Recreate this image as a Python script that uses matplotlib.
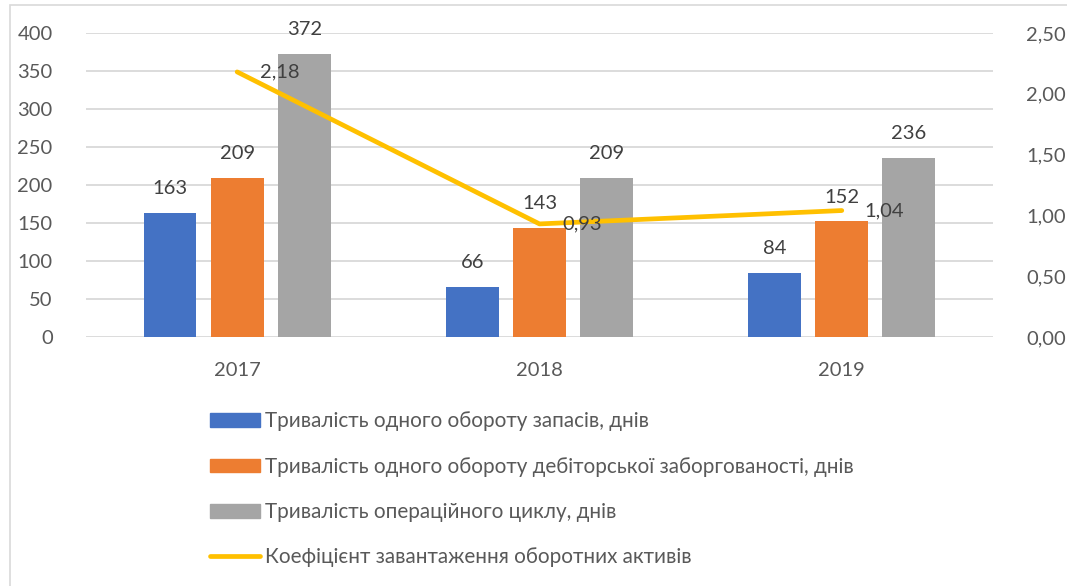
import numpy as np
import matplotlib.pyplot as plt
from matplotlib.patches import Rectangle
from matplotlib.lines import Line2D

# Data
years = ["2017", "2018", "2019"]
stock_days = [163, 66, 84]
receivable_days = [209, 143, 152]
cycle_days = [372, 209, 236]
load_ratio = [2.18, 0.93, 1.04]

labels = [
    "Тривалість одного обороту запасів, днів",
    "Тривалість одного обороту дебіторської заборгованості, днів",
    "Тривалість операційного циклу, днів",
    "Коефіцієнт завантаження оборотних активів",
]
colors = ["#4472C4", "#ED7D31", "#A5A5A5"]
line_color = "#FFC000"

plt.rcParams["font.family"] = ["Lato", "Open Sans", "DejaVu Sans"]
fs = 14.5
txt = "#404040"

fig = plt.figure(figsize=(10.67, 5.86), dpi=100)
ax = fig.add_axes([0.0806, 0.4249, 0.85, 0.5188])
ax2 = ax.twinx()

# outer frame of the chart area
fig.patches.append(Rectangle((10 / 1067, -0.1), 1.2, 1 - 5 / 586 + 0.1,
                             transform=fig.transFigure, fill=False,
                             edgecolor="#d9d9d9", lw=1.2, zorder=1))

x = np.arange(len(years))
w = 0.175
step = 0.222
series = [stock_days, receivable_days, cycle_days]
for k, (vals, c) in enumerate(zip(series, colors)):
    pos = x + (k - 1) * step
    ax.bar(pos, vals, width=w, color=c, zorder=2)
    for px, v in zip(pos, vals):
        ax.text(px, v + 21, str(v), ha="center", va="bottom",
                fontsize=fs, color=txt, zorder=4)

ax.set_xlim(-0.5, 2.5)
ax.set_ylim(0, 400)
ax.set_yticks(range(0, 401, 50))
ax.set_xticks(x)
ax.set_xticklabels(years)
ax.grid(axis="y", color="#d9d9d9", lw=1.3, zorder=0)
ax.set_axisbelow(True)
for s in ax.spines.values():
    s.set_visible(False)
for s in ax2.spines.values():
    s.set_visible(False)
ax.tick_params(axis="both", length=0, labelsize=fs, colors="#595959")
ax.tick_params(axis="y", pad=24)
ax.tick_params(axis="x", pad=18)

ax2.plot(x, load_ratio, color=line_color, lw=3.4, solid_capstyle="round",
         zorder=3)
for px, v in zip(x, load_ratio):
    ax2.text(px + 0.075, v, f"{v:.2f}".replace(".", ","), ha="left",
             va="center", fontsize=fs, color=txt, zorder=4)
ax2.set_ylim(0, 2.5)
ax2.set_yticks(np.arange(0, 2.51, 0.5))
ax2.set_yticklabels([f"{t:.2f}".replace(".", ",") for t in np.arange(0, 2.51, 0.5)])
ax2.tick_params(axis="y", length=0, labelsize=fs, colors="#595959", pad=24)

handles = [Rectangle((0, 0), 1, 1, color=c) for c in colors]
handles.append(Line2D([0], [0], color=line_color, lw=3.4,
                      solid_capstyle="round"))
fig.legend(handles, labels, loc="upper left",
           bbox_to_anchor=(200 / 1067, 1 - 401 / 586), frameon=False,
           fontsize=14.85, labelcolor="#595959", handlelength=2.4,
           handleheight=0.65, handletextpad=0.25, labelspacing=1.23,
           borderpad=0)

fig.savefig("out.png", dpi=100)
